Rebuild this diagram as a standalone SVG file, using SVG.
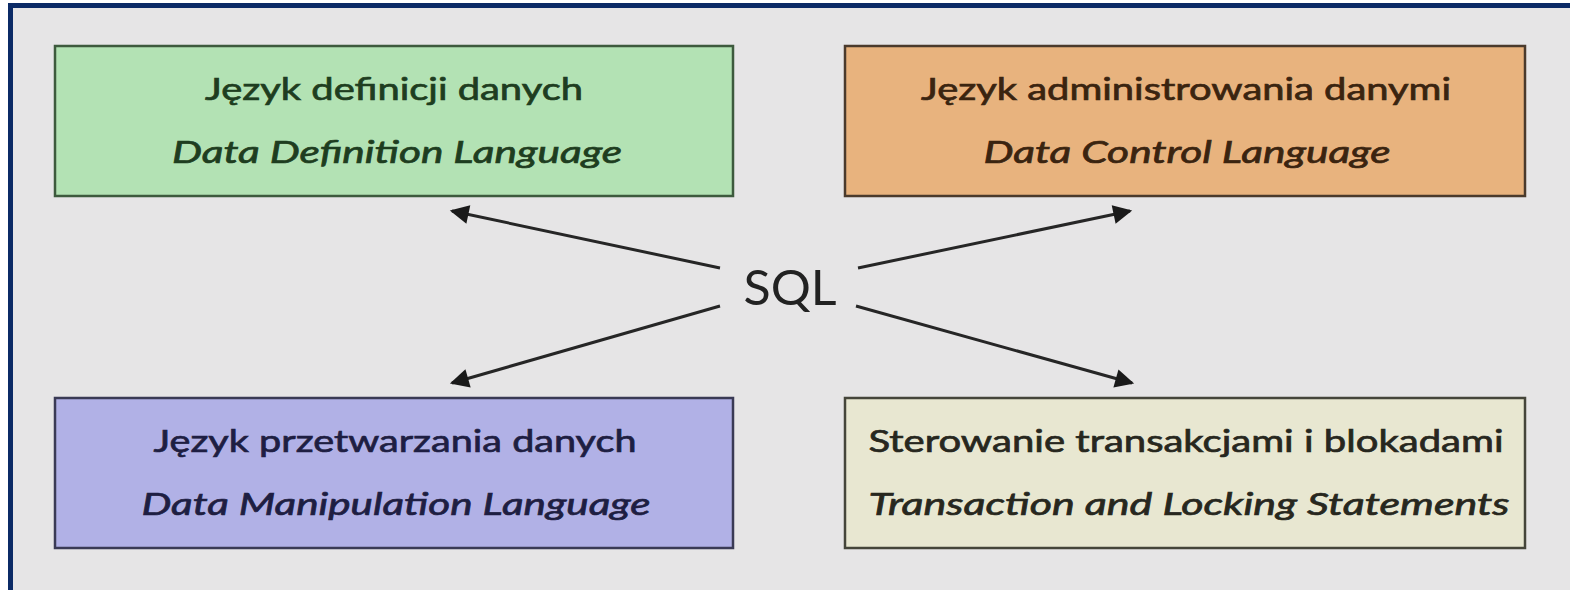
<svg xmlns="http://www.w3.org/2000/svg" width="1570" height="590" viewBox="0 0 1570 590">
<style>
.box{stroke-width:2.5}
.t{font-family:"Lato","DejaVu Sans",sans-serif;font-size:31px;text-anchor:middle;stroke-width:0.7}
.i{font-style:italic}
.con{stroke:#262626;stroke-width:3;fill:none}
</style>
<defs>
<marker id="ah" viewBox="0 0 10 10" refX="9" refY="5" markerWidth="7" markerHeight="7" markerUnits="userSpaceOnUse" orient="auto-start-reverse" style="overflow:visible">
<path d="M0,0 L10,5 L0,10 z" fill="#1a1a1a" transform="scale(2.7) translate(-5.5,-3.15)"/>
</marker>
</defs>
<rect x="0" y="0" width="1570" height="590" fill="#ffffff"/>
<rect x="8" y="3" width="1562" height="587" fill="#e6e5e6"/>
<rect x="8" y="3" width="1562" height="5" fill="#0b2a66"/>
<rect x="8" y="3" width="5" height="587" fill="#0b2a66"/>

<g id="ddl">
<rect class="box" x="55" y="46" width="678" height="150" fill="#b3e2b4" stroke="#3d5a3d"/>
<text class="t" x="394" y="100" fill="#1e3d20" stroke="#1e3d20" textLength="378" lengthAdjust="spacingAndGlyphs">Język definicji danych</text>
<text class="t i" x="397" y="163" fill="#1e3d20" stroke="#1e3d20" textLength="450" lengthAdjust="spacingAndGlyphs">Data Definition Language</text>
</g>
<g id="dcl">
<rect class="box" x="845" y="46" width="680" height="150" fill="#e8b37e" stroke="#4a3a2c"/>
<text class="t" x="1186" y="100" fill="#3a2410" stroke="#3a2410" textLength="530" lengthAdjust="spacingAndGlyphs">Język administrowania danymi</text>
<text class="t i" x="1187" y="163" fill="#3a2410" stroke="#3a2410" textLength="407" lengthAdjust="spacingAndGlyphs">Data Control Language</text>
</g>
<g id="dml">
<rect class="box" x="55" y="398" width="678" height="150" fill="#b1b1e6" stroke="#3a3a55"/>
<text class="t" x="395" y="452" fill="#1e1e42" stroke="#1e1e42" textLength="483" lengthAdjust="spacingAndGlyphs">Język przetwarzania danych</text>
<text class="t i" x="396" y="515" fill="#1e1e42" stroke="#1e1e42" textLength="509" lengthAdjust="spacingAndGlyphs">Data Manipulation Language</text>
</g>
<g id="tcl">
<rect class="box" x="845" y="398" width="680" height="150" fill="#e8e7d1" stroke="#45453a"/>
<text class="t" x="1186" y="452" fill="#27271e" stroke="#27271e" textLength="635" lengthAdjust="spacingAndGlyphs">Sterowanie transakcjami i blokadami</text>
<text class="t i" x="1189" y="515" fill="#27271e" stroke="#27271e" textLength="641" lengthAdjust="spacingAndGlyphs">Transaction and Locking Statements</text>
</g>
<g id="sql">
<text x="790" y="305" font-family="Lato,'DejaVu Sans',sans-serif" font-size="48" text-anchor="middle" fill="#222" textLength="93" lengthAdjust="spacingAndGlyphs">SQL</text>
</g>
<g id="connectors">
<line class="con" x1="720" y1="268" x2="452" y2="211" marker-end="url(#ah)"/>
<line class="con" x1="858" y1="268" x2="1130" y2="211" marker-end="url(#ah)"/>
<line class="con" x1="720" y1="306" x2="452" y2="383" marker-end="url(#ah)"/>
<line class="con" x1="856" y1="306" x2="1132" y2="383" marker-end="url(#ah)"/>
</g>
</svg>
